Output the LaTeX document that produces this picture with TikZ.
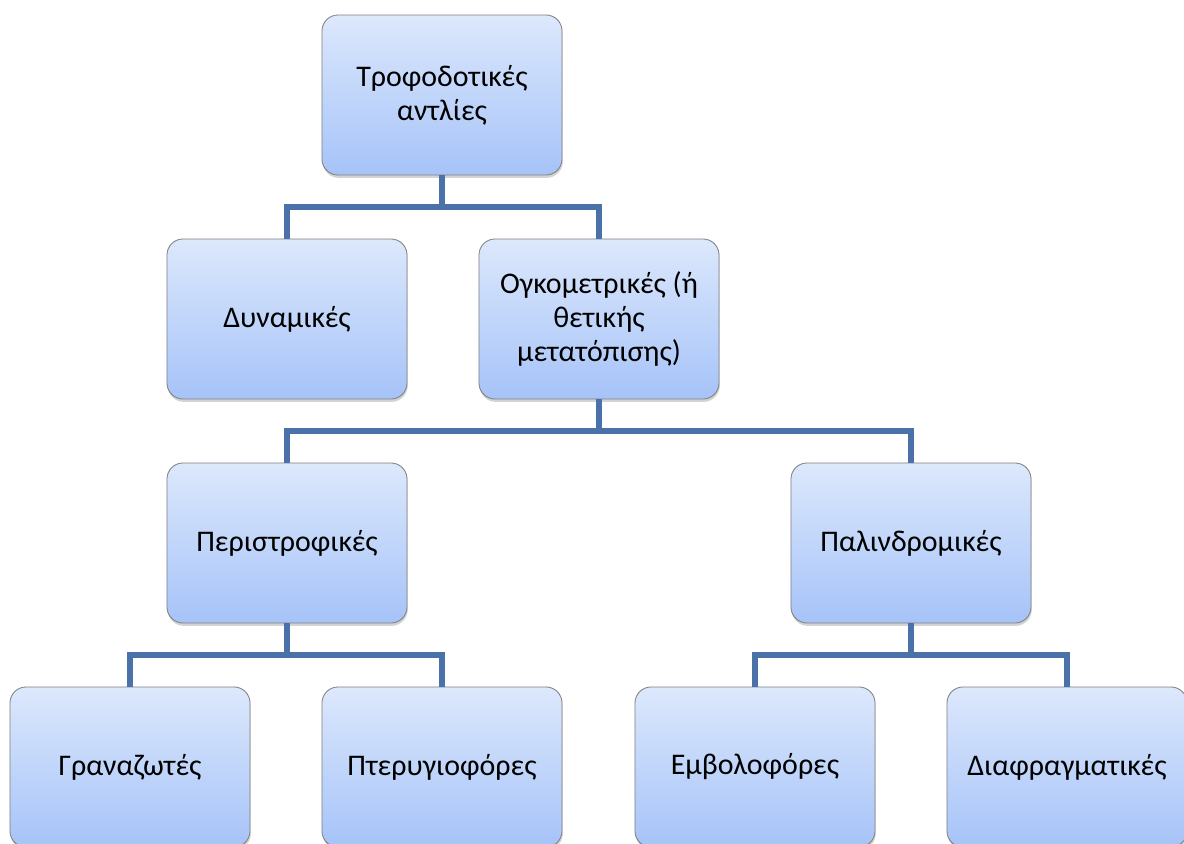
\documentclass[tikz,border=0pt]{standalone}
\usepackage{fontspec}
\setmainfont{Carlito}
\usepackage{xcolor}
\usetikzlibrary{positioning,calc,shadows}
\definecolor{boxtop}{HTML}{DCE8FC}
\definecolor{boxbot}{HTML}{A6C3F8}
\definecolor{boxline}{HTML}{808080}
\definecolor{busblue}{HTML}{4A72A8}
\begin{document}
\begin{tikzpicture}[x=0.025cm,y=-0.025cm,
  bx/.style={draw=boxline,line width=0.6pt,rounded corners=0.4cm,
    minimum width=6cm,minimum height=4cm,align=center,
    top color=boxtop,bottom color=boxbot,
    drop shadow={opacity=0.35,shadow xshift=0.5pt,shadow yshift=-2pt},
    font=\fontsize{21.3}{24.3}\selectfont},
  bus/.style={draw=busblue,line width=3.6pt,line join=miter}]
  \useasboundingbox (0,0) rectangle (1184,843);
  % level 0 and 1
  \node[bx](pump) at (442,95){Τροφοδοτικές\\αντλίες};
  \node[bx](dyn) at (287,319){Δυναμικές};
  \node[bx](vol) at (599,319){Ογκομετρικές (ή\\θετικής\\μετατόπισης)};
  % level 2
  \node[bx](rot) at (287,543){Περιστροφικές};
  \node[bx](rec) at (911,543){Παλινδρομικές};
  % level 3
  \node[bx](gear) at (130,767){Γραναζωτές};
  \node[bx](vane) at (442,767){Πτερυγιοφόρες};
  \node[bx](pist) at (755,767){Εμβολοφόρες};
  \node[bx](diaph) at (1067,767){Διαφραγματικές};
  % connectors
  \coordinate (b1) at (442,207);
  \coordinate (b2) at (599,431);
  \coordinate (b3) at (287,655);
  \coordinate (b4) at (911,655);
  \draw[bus] (pump.south) -- (b1);
  \draw[bus] (dyn.north) |- (b1) -| (vol.north);
  \draw[bus] (vol.south) -- (b2);
  \draw[bus] (rot.north) |- (b2) -| (rec.north);
  \draw[bus] (rot.south) -- (b3);
  \draw[bus] (gear.north) |- (b3) -| (vane.north);
  \draw[bus] (rec.south) -- (b4);
  \draw[bus] (pist.north) |- (b4) -| (diaph.north);
\end{tikzpicture}
\end{document}
